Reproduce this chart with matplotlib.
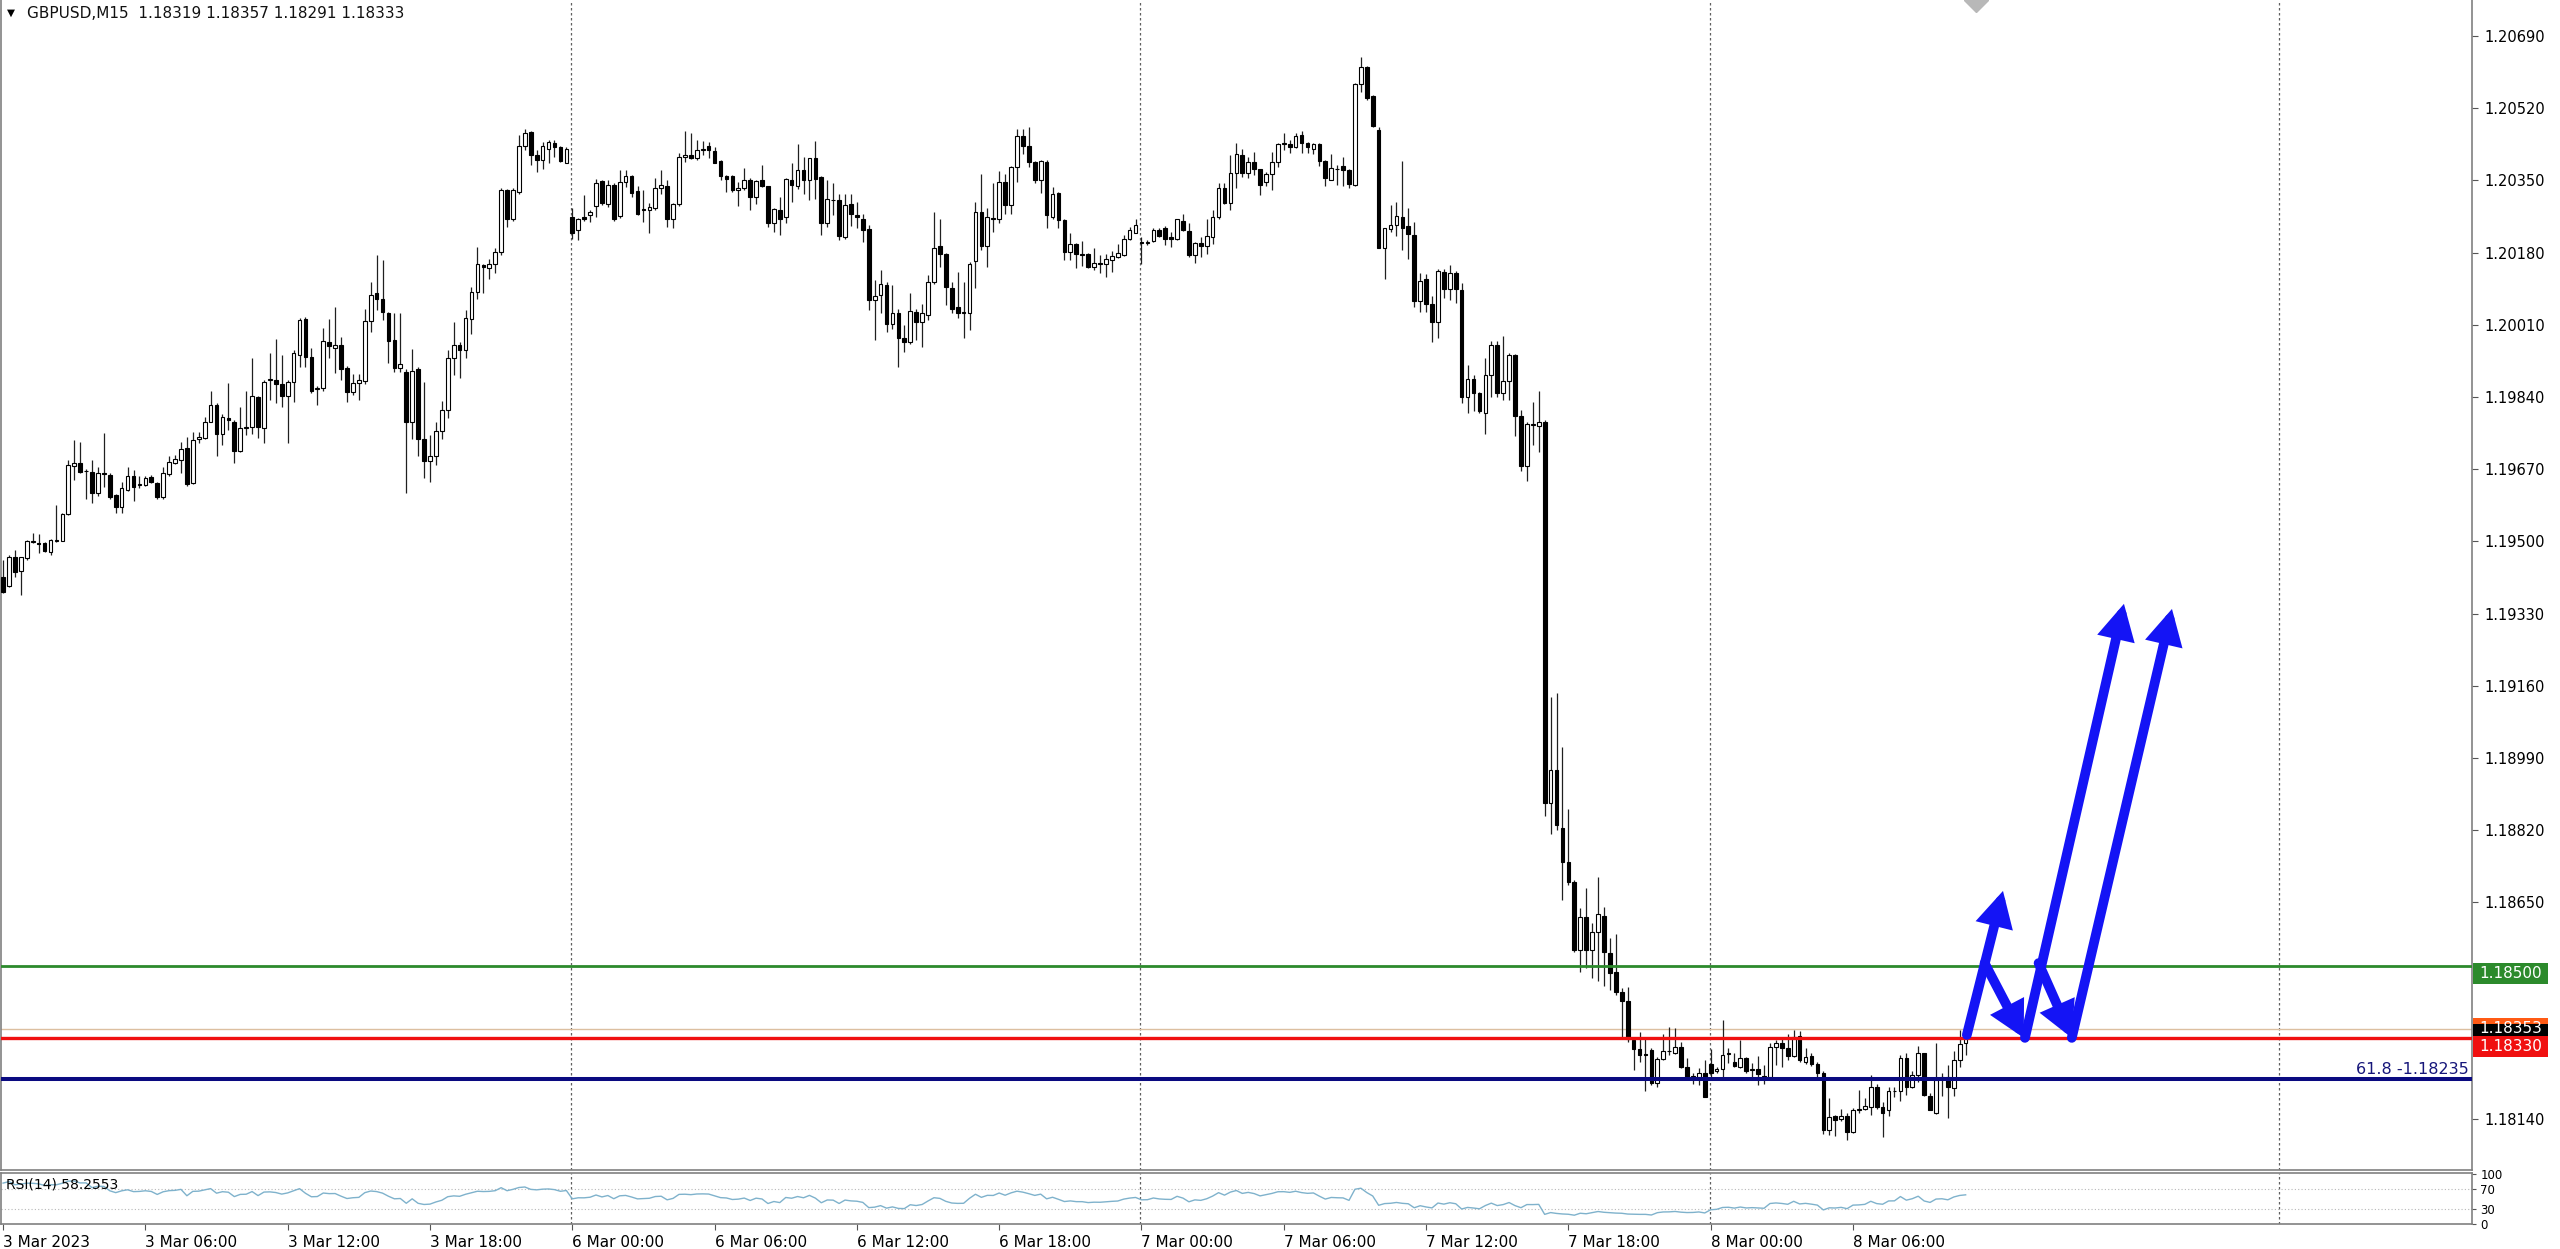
import numpy as np
import matplotlib
matplotlib.use("Agg")
import matplotlib.pyplot as plt
from matplotlib.patches import FancyArrowPatch, Rectangle
from matplotlib.transforms import blended_transform_factory
from matplotlib import font_manager

# GBPUSD M15 candles, 3 Mar 2023 00:00 -> 8 Mar 2023 10:45
opens = [
    1.19417, 1.19395, 1.19464, 1.19431, 1.19460, 1.19499, 1.19497, 1.19496, 1.19476, 1.19502,
    1.19502, 1.19565, 1.19678, 1.19684, 1.19666, 1.19664, 1.19613, 1.19662, 1.19656, 1.19609,
    1.19580, 1.19621, 1.19655, 1.19632, 1.19633, 1.19651, 1.19638, 1.19605, 1.19659, 1.19684,
    1.19692, 1.19719, 1.19637, 1.19740, 1.19743, 1.19782, 1.19821, 1.19753, 1.19791, 1.19782,
    1.19714, 1.19768, 1.19769, 1.19839, 1.19766, 1.19880, 1.19880, 1.19871, 1.19843, 1.19876,
    1.19939, 1.20023, 1.19934, 1.19859, 1.19861, 1.19970, 1.19955, 1.19962, 1.19909, 1.19852,
    1.19873, 1.19878, 1.20019, 1.20084, 1.20070, 1.20038, 1.19975, 1.19909, 1.19900, 1.19780,
    1.19905, 1.19740, 1.19690, 1.19700, 1.19760, 1.19810, 1.19931, 1.19962, 1.19950, 1.20023,
    1.20088, 1.20150, 1.20143, 1.20154, 1.20182, 1.20327, 1.20259, 1.20323, 1.20431, 1.20464,
    1.20409, 1.20398, 1.20423, 1.20439, 1.20428, 1.20392, 1.20264, 1.20233, 1.20264, 1.20268,
    1.20289, 1.20348, 1.20294, 1.20340, 1.20266, 1.20347, 1.20360, 1.20325, 1.20283, 1.20280,
    1.20284, 1.20333, 1.20336, 1.20259, 1.20294, 1.20404, 1.20411, 1.20402, 1.20422, 1.20431,
    1.20420, 1.20395, 1.20360, 1.20360, 1.20327, 1.20331, 1.20351, 1.20311, 1.20351, 1.20336,
    1.20250, 1.20280, 1.20263, 1.20351, 1.20336, 1.20374, 1.20352, 1.20402, 1.20357, 1.20249,
    1.20305, 1.20303, 1.20217, 1.20294, 1.20268, 1.20260, 1.20235, 1.20068, 1.20080, 1.20103,
    1.20013, 1.20037, 1.19980, 1.19970, 1.20041, 1.20017, 1.20033, 1.20111, 1.20195, 1.20176,
    1.20096, 1.20051, 1.20038, 1.20037, 1.20161, 1.20276, 1.20196, 1.20261, 1.20258, 1.20347,
    1.20292, 1.20382, 1.20454, 1.20431, 1.20394, 1.20351, 1.20394, 1.20264, 1.20321, 1.20256,
    1.20182, 1.20200, 1.20177, 1.20176, 1.20147, 1.20155, 1.20153, 1.20162, 1.20170, 1.20174,
    1.20211, 1.20227, 1.20206, 1.20202, 1.20208, 1.20233, 1.20237, 1.20217, 1.20211, 1.20255,
    1.20231, 1.20174, 1.20203, 1.20195, 1.20217, 1.20264, 1.20333, 1.20297, 1.20368, 1.20409,
    1.20368, 1.20394, 1.20376, 1.20347, 1.20365, 1.20394, 1.20435, 1.20435, 1.20428, 1.20457,
    1.20437, 1.20425, 1.20435, 1.20396, 1.20352, 1.20377, 1.20384, 1.20374, 1.20340, 1.20577,
    1.20616, 1.20549, 1.20468, 1.20192, 1.20235, 1.20246, 1.20264, 1.20242, 1.20221, 1.20065,
    1.20117, 1.20059, 1.20016, 1.20134, 1.20094, 1.20131, 1.20091, 1.19839, 1.19882, 1.19849,
    1.19803, 1.19892, 1.19962, 1.19849, 1.19878, 1.19940, 1.19796, 1.19677, 1.19775, 1.19772,
    1.19782, 1.18885, 1.18961, 1.18825, 1.18746, 1.18699, 1.18538, 1.18615, 1.18538, 1.18581,
    1.18617, 1.18532, 1.18485, 1.18440, 1.18419, 1.18325, 1.18304, 1.18293, 1.18303, 1.18224,
    1.18281, 1.18299, 1.18295, 1.18310, 1.18263, 1.18239, 1.18238, 1.18249, 1.18270, 1.18252,
    1.18257, 1.18293, 1.18275, 1.18263, 1.18283, 1.18255, 1.18257, 1.18241, 1.18238, 1.18310,
    1.18318, 1.18307, 1.18289, 1.18336, 1.18275, 1.18289, 1.18270, 1.18248, 1.18113, 1.18146,
    1.18139, 1.18146, 1.18110, 1.18160, 1.18163, 1.18169, 1.18215, 1.18169, 1.18161, 1.18205,
    1.18205, 1.18283, 1.18216, 1.18244, 1.18295, 1.18194, 1.18153, 1.18237, 1.18238, 1.18212,
    1.18278, 1.18319,
]
highs = [
    1.19456, 1.19468, 1.19480, 1.19464, 1.19503, 1.19519, 1.19518, 1.19498, 1.19505, 1.19586,
    1.19567, 1.19692, 1.19739, 1.19735, 1.19670, 1.19692, 1.19676, 1.19755, 1.19660, 1.19612,
    1.19640, 1.19676, 1.19668, 1.19653, 1.19655, 1.19656, 1.19641, 1.19676, 1.19700, 1.19703,
    1.19733, 1.19747, 1.19758, 1.19758, 1.19794, 1.19855, 1.19825, 1.19800, 1.19872, 1.19785,
    1.19817, 1.19853, 1.19931, 1.19843, 1.19880, 1.19943, 1.19976, 1.19939, 1.19880, 1.19951,
    1.20025, 1.20028, 1.19955, 1.19865, 1.20002, 1.20023, 1.20053, 1.19982, 1.19912, 1.19895,
    1.19895, 1.20048, 1.20111, 1.20174, 1.20162, 1.20041, 1.20037, 1.20037, 1.19905, 1.19954,
    1.19910, 1.19876, 1.19750, 1.19780, 1.19830, 1.19950, 1.20017, 1.19970, 1.20044, 1.20099,
    1.20194, 1.20154, 1.20166, 1.20190, 1.20331, 1.20330, 1.20331, 1.20457, 1.20472, 1.20466,
    1.20421, 1.20441, 1.20445, 1.20445, 1.20430, 1.20429, 1.20284, 1.20262, 1.20315, 1.20280,
    1.20353, 1.20350, 1.20351, 1.20345, 1.20374, 1.20374, 1.20362, 1.20336, 1.20327, 1.20296,
    1.20355, 1.20374, 1.20351, 1.20296, 1.20415, 1.20467, 1.20461, 1.20446, 1.20443, 1.20441,
    1.20429, 1.20397, 1.20362, 1.20362, 1.20347, 1.20380, 1.20355, 1.20352, 1.20387, 1.20338,
    1.20285, 1.20311, 1.20356, 1.20390, 1.20435, 1.20404, 1.20403, 1.20443, 1.20360, 1.20352,
    1.20343, 1.20319, 1.20319, 1.20318, 1.20300, 1.20272, 1.20245, 1.20115, 1.20140, 1.20110,
    1.20103, 1.20048, 1.20009, 1.20084, 1.20048, 1.20059, 1.20127, 1.20276, 1.20258, 1.20180,
    1.20111, 1.20135, 1.20111, 1.20158, 1.20300, 1.20365, 1.20284, 1.20343, 1.20373, 1.20365,
    1.20384, 1.20472, 1.20470, 1.20475, 1.20396, 1.20399, 1.20397, 1.20335, 1.20323, 1.20258,
    1.20227, 1.20203, 1.20208, 1.20178, 1.20190, 1.20174, 1.20176, 1.20184, 1.20200, 1.20221,
    1.20241, 1.20258, 1.20217, 1.20209, 1.20237, 1.20239, 1.20242, 1.20229, 1.20260, 1.20270,
    1.20249, 1.20205, 1.20217, 1.20258, 1.20280, 1.20343, 1.20343, 1.20409, 1.20439, 1.20423,
    1.20406, 1.20417, 1.20378, 1.20370, 1.20417, 1.20437, 1.20462, 1.20445, 1.20461, 1.20467,
    1.20441, 1.20439, 1.20437, 1.20398, 1.20412, 1.20386, 1.20404, 1.20376, 1.20580, 1.20641,
    1.20620, 1.20551, 1.20475, 1.20238, 1.20292, 1.20300, 1.20396, 1.20285, 1.20252, 1.20131,
    1.20130, 1.20079, 1.20141, 1.20141, 1.20151, 1.20137, 1.20108, 1.19915, 1.19892, 1.19851,
    1.19933, 1.19973, 1.19973, 1.19983, 1.19944, 1.19942, 1.19810, 1.19782, 1.19829, 1.19854,
    1.19786, 1.19134, 1.19144, 1.19015, 1.18871, 1.18703, 1.18636, 1.18683, 1.18601, 1.18710,
    1.18640, 1.18566, 1.18576, 1.18448, 1.18450, 1.18334, 1.18346, 1.18334, 1.18307, 1.18287,
    1.18340, 1.18356, 1.18354, 1.18322, 1.18283, 1.18248, 1.18259, 1.18279, 1.18304, 1.18263,
    1.18372, 1.18307, 1.18295, 1.18325, 1.18287, 1.18273, 1.18289, 1.18267, 1.18318, 1.18326,
    1.18334, 1.18340, 1.18350, 1.18348, 1.18307, 1.18296, 1.18275, 1.18252, 1.18189, 1.18150,
    1.18163, 1.18153, 1.18165, 1.18208, 1.18189, 1.18244, 1.18223, 1.18179, 1.18215, 1.18216,
    1.18291, 1.18295, 1.18252, 1.18311, 1.18296, 1.18201, 1.18318, 1.18248, 1.18267, 1.18301,
    1.18350, 1.18357,
]
lows = [
    1.19378, 1.19393, 1.19417, 1.19374, 1.19456, 1.19496, 1.19473, 1.19475, 1.19468, 1.19498,
    1.19500, 1.19562, 1.19645, 1.19660, 1.19601, 1.19590, 1.19608, 1.19629, 1.19600, 1.19566,
    1.19566, 1.19618, 1.19594, 1.19625, 1.19630, 1.19638, 1.19600, 1.19600, 1.19655, 1.19683,
    1.19660, 1.19630, 1.19635, 1.19731, 1.19740, 1.19780, 1.19700, 1.19727, 1.19762, 1.19684,
    1.19710, 1.19750, 1.19754, 1.19743, 1.19731, 1.19833, 1.19825, 1.19817, 1.19731, 1.19829,
    1.19911, 1.19911, 1.19850, 1.19821, 1.19855, 1.19931, 1.19896, 1.19880, 1.19829, 1.19845,
    1.19832, 1.19870, 1.19993, 1.20044, 1.20021, 1.19919, 1.19899, 1.19899, 1.19615, 1.19740,
    1.19700, 1.19650, 1.19640, 1.19680, 1.19740, 1.19790, 1.19891, 1.19884, 1.19931, 1.19989,
    1.20070, 1.20084, 1.20119, 1.20132, 1.20174, 1.20241, 1.20255, 1.20319, 1.20421, 1.20386,
    1.20370, 1.20378, 1.20390, 1.20406, 1.20394, 1.20390, 1.20213, 1.20209, 1.20255, 1.20252,
    1.20264, 1.20292, 1.20288, 1.20255, 1.20262, 1.20335, 1.20311, 1.20268, 1.20252, 1.20227,
    1.20280, 1.20319, 1.20241, 1.20239, 1.20290, 1.20394, 1.20400, 1.20398, 1.20409, 1.20402,
    1.20390, 1.20352, 1.20323, 1.20323, 1.20289, 1.20327, 1.20280, 1.20294, 1.20334, 1.20241,
    1.20229, 1.20221, 1.20250, 1.20300, 1.20330, 1.20319, 1.20303, 1.20307, 1.20221, 1.20241,
    1.20268, 1.20209, 1.20213, 1.20242, 1.20237, 1.20205, 1.20044, 1.19975, 1.20037, 1.19993,
    1.20001, 1.19911, 1.19946, 1.19965, 1.19974, 1.19958, 1.20021, 1.20105, 1.20147, 1.20056,
    1.20037, 1.20025, 1.19978, 1.19997, 1.20096, 1.20186, 1.20145, 1.20229, 1.20249, 1.20272,
    1.20272, 1.20347, 1.20413, 1.20382, 1.20343, 1.20321, 1.20237, 1.20258, 1.20237, 1.20162,
    1.20162, 1.20143, 1.20148, 1.20143, 1.20139, 1.20131, 1.20123, 1.20135, 1.20168, 1.20172,
    1.20209, 1.20225, 1.20154, 1.20198, 1.20205, 1.20216, 1.20198, 1.20194, 1.20209, 1.20231,
    1.20170, 1.20156, 1.20170, 1.20176, 1.20200, 1.20260, 1.20294, 1.20280, 1.20333, 1.20358,
    1.20355, 1.20362, 1.20315, 1.20336, 1.20327, 1.20382, 1.20421, 1.20415, 1.20426, 1.20415,
    1.20415, 1.20413, 1.20384, 1.20336, 1.20350, 1.20339, 1.20336, 1.20333, 1.20336, 1.20559,
    1.20540, 1.20475, 1.20190, 1.20117, 1.20228, 1.20218, 1.20185, 1.20166, 1.20051, 1.20041,
    1.20041, 1.19969, 1.19979, 1.20074, 1.20069, 1.20062, 1.19825, 1.19803, 1.19806, 1.19803,
    1.19753, 1.19839, 1.19839, 1.19832, 1.19832, 1.19749, 1.19666, 1.19642, 1.19728, 1.19710,
    1.18853, 1.18810, 1.18820, 1.18655, 1.18690, 1.18534, 1.18487, 1.18495, 1.18471, 1.18464,
    1.18452, 1.18444, 1.18432, 1.18330, 1.18322, 1.18256, 1.18275, 1.18205, 1.18219, 1.18216,
    1.18278, 1.18291, 1.18292, 1.18259, 1.18236, 1.18223, 1.18220, 1.18191, 1.18240, 1.18249,
    1.18238, 1.18273, 1.18262, 1.18259, 1.18249, 1.18240, 1.18220, 1.18223, 1.18235, 1.18267,
    1.18263, 1.18279, 1.18285, 1.18275, 1.18270, 1.18265, 1.18240, 1.18105, 1.18102, 1.18099,
    1.18136, 1.18091, 1.18107, 1.18153, 1.18160, 1.18150, 1.18163, 1.18097, 1.18147, 1.18191,
    1.18183, 1.18197, 1.18212, 1.18228, 1.18193, 1.18160, 1.18152, 1.18193, 1.18142, 1.18193,
    1.18263, 1.18291,
]
closes = [
    1.19382, 1.19464, 1.19427, 1.19463, 1.19502, 1.19501, 1.19495, 1.19478, 1.19503, 1.19503,
    1.19565, 1.19680, 1.19684, 1.19664, 1.19665, 1.19613, 1.19660, 1.19658, 1.19605, 1.19580,
    1.19625, 1.19653, 1.19629, 1.19634, 1.19649, 1.19641, 1.19605, 1.19660, 1.19686, 1.19693,
    1.19717, 1.19635, 1.19739, 1.19745, 1.19782, 1.19821, 1.19753, 1.19794, 1.19786, 1.19712,
    1.19766, 1.19770, 1.19843, 1.19770, 1.19876, 1.19883, 1.19871, 1.19843, 1.19876, 1.19943,
    1.20021, 1.19934, 1.19855, 1.19861, 1.19973, 1.19960, 1.19963, 1.19907, 1.19852, 1.19872,
    1.19881, 1.20019, 1.20081, 1.20070, 1.20039, 1.19972, 1.19909, 1.19917, 1.19780, 1.19902,
    1.19740, 1.19690, 1.19700, 1.19760, 1.19810, 1.19931, 1.19962, 1.19950, 1.20025, 1.20088,
    1.20154, 1.20147, 1.20154, 1.20182, 1.20327, 1.20259, 1.20327, 1.20431, 1.20462, 1.20409,
    1.20398, 1.20431, 1.20441, 1.20428, 1.20396, 1.20425, 1.20227, 1.20260, 1.20259, 1.20276,
    1.20343, 1.20297, 1.20339, 1.20258, 1.20347, 1.20360, 1.20321, 1.20272, 1.20281, 1.20288,
    1.20333, 1.20340, 1.20259, 1.20294, 1.20406, 1.20411, 1.20402, 1.20421, 1.20424, 1.20421,
    1.20392, 1.20360, 1.20354, 1.20327, 1.20333, 1.20351, 1.20311, 1.20349, 1.20336, 1.20250,
    1.20282, 1.20260, 1.20353, 1.20339, 1.20374, 1.20352, 1.20402, 1.20353, 1.20249, 1.20307,
    1.20303, 1.20219, 1.20292, 1.20271, 1.20263, 1.20234, 1.20068, 1.20077, 1.20106, 1.20013,
    1.20037, 1.19978, 1.19970, 1.20043, 1.20017, 1.20037, 1.20111, 1.20192, 1.20176, 1.20098,
    1.20048, 1.20037, 1.20039, 1.20153, 1.20276, 1.20196, 1.20263, 1.20260, 1.20347, 1.20292,
    1.20382, 1.20454, 1.20431, 1.20394, 1.20352, 1.20396, 1.20268, 1.20319, 1.20256, 1.20182,
    1.20200, 1.20176, 1.20175, 1.20147, 1.20156, 1.20154, 1.20164, 1.20172, 1.20178, 1.20213,
    1.20233, 1.20245, 1.20203, 1.20205, 1.20234, 1.20219, 1.20213, 1.20211, 1.20259, 1.20234,
    1.20174, 1.20203, 1.20195, 1.20219, 1.20263, 1.20333, 1.20297, 1.20368, 1.20412, 1.20368,
    1.20394, 1.20376, 1.20339, 1.20365, 1.20394, 1.20435, 1.20437, 1.20428, 1.20454, 1.20437,
    1.20428, 1.20435, 1.20396, 1.20355, 1.20380, 1.20376, 1.20374, 1.20341, 1.20577, 1.20616,
    1.20544, 1.20477, 1.20192, 1.20238, 1.20246, 1.20267, 1.20238, 1.20223, 1.20065, 1.20113,
    1.20059, 1.20016, 1.20137, 1.20094, 1.20131, 1.20094, 1.19839, 1.19882, 1.19849, 1.19806,
    1.19892, 1.19962, 1.19849, 1.19878, 1.19940, 1.19796, 1.19677, 1.19777, 1.19776, 1.19782,
    1.18885, 1.18961, 1.18832, 1.18746, 1.18698, 1.18538, 1.18615, 1.18538, 1.18581, 1.18623,
    1.18534, 1.18483, 1.18440, 1.18419, 1.18328, 1.18304, 1.18291, 1.18291, 1.18224, 1.18281,
    1.18299, 1.18301, 1.18310, 1.18263, 1.18238, 1.18240, 1.18249, 1.18191, 1.18249, 1.18257,
    1.18291, 1.18295, 1.18265, 1.18283, 1.18252, 1.18257, 1.18246, 1.18238, 1.18309, 1.18318,
    1.18307, 1.18289, 1.18334, 1.18278, 1.18287, 1.18270, 1.18249, 1.18113, 1.18144, 1.18138,
    1.18147, 1.18110, 1.18160, 1.18163, 1.18171, 1.18216, 1.18169, 1.18155, 1.18205, 1.18207,
    1.18283, 1.18216, 1.18244, 1.18296, 1.18197, 1.18161, 1.18232, 1.18239, 1.18216, 1.18279,
    1.18317, 1.18333,
]

# time axis: bar index of each label (15 min bars, weekend removed)
time_ticks = [0, 24, 48, 72, 96, 120, 144, 168, 192, 216, 240, 264, 288, 312]
time_labels = ["3 Mar 2023", "3 Mar 06:00", "3 Mar 12:00", "3 Mar 18:00",
               "6 Mar 00:00", "6 Mar 06:00", "6 Mar 12:00", "6 Mar 18:00",
               "7 Mar 00:00", "7 Mar 06:00", "7 Mar 12:00", "7 Mar 18:00",
               "8 Mar 00:00", "8 Mar 06:00"]
day_starts = [96, 192, 288, 384]

price_ticks = [1.20690, 1.20520, 1.20350, 1.20180, 1.20010, 1.19840, 1.19670,
               1.19500, 1.19330, 1.19160, 1.18990, 1.18820, 1.18650, 1.18140]
rsi_ticks = [0, 30, 70, 100]
rsi_levels = [30, 70]

# drawn objects
green_level = 1.18500
red_level = 1.18330
fib_level = 1.18235
ask_price = 1.18353
bid_price = 1.18333
arrow_paths = [
    ((331.2, 1.18338), (337.3, 1.18677)),
    ((334.2, 1.18507), (340.8, 1.18331)),
    ((341.0, 1.18331), (357.7, 1.19353)),
    ((343.3, 1.18507), (348.9, 1.18331)),
    ((348.9, 1.18331), (365.8, 1.19341)),
]

o = np.array(opens)
c = np.array(closes)
h = np.maximum(np.array(highs), np.maximum(o, c))
l = np.minimum(np.array(lows), np.minimum(o, c))
x = np.arange(len(c))


def wilder_rsi(values, period=14):
    diff = np.diff(values)
    gains = np.clip(diff, 0, None)
    losses = np.clip(-diff, 0, None)
    ag = gains[:period].mean()
    al = losses[:period].mean()
    out = [100 - 100 / (1 + ag / al)]
    for g, lo in zip(gains, losses):
        ag = (ag * (period - 1) + g) / period
        al = (al * (period - 1) + lo) / period
        out.append(100 - 100 / (1 + ag / al))
    return np.array(out)


rsi = wilder_rsi(c)

names = {f.name for f in font_manager.fontManager.ttflist}
narrow = "Liberation Sans Narrow" if "Liberation Sans Narrow" in names else "DejaVu Sans"

W, H = 2560, 1249
fig = plt.figure(figsize=(W / 100, H / 100), dpi=100, facecolor="white")
ax = fig.add_axes([1 / W, 79 / H, 2471 / W, 1170 / H])
ax2 = fig.add_axes([1 / W, 25 / H, 2471 / W, 51 / H])

xlim = (-0.35, 416.4)
ylim = (1.180199, 1.207748)
ax.set_xlim(*xlim)
ax.set_ylim(*ylim)
ax2.set_xlim(*xlim)
ax2.set_ylim(0, 102)
px = (ylim[1] - ylim[0]) / 1170  # price per screen pixel

frame = "#808080"
for a in (ax, ax2):
    for s in a.spines.values():
        s.set_color(frame)
        s.set_linewidth(1.2)
ax.spines["top"].set_visible(False)

# candles
up = c >= o
ax.vlines(x, l, h, color="#202020", lw=0.9, zorder=2)
body_lo = np.minimum(o, c)
body_h = np.maximum(np.abs(c - o), 0.000012)
ax.bar(x[up], body_h[up], bottom=body_lo[up], width=0.62, facecolor="white",
       edgecolor="black", linewidth=0.8, zorder=3)
ax.bar(x[~up], body_h[~up], bottom=body_lo[~up], width=0.62, facecolor="black",
       edgecolor="black", linewidth=0.8, zorder=3)

# day separators
for d in day_starts:
    for a in (ax, ax2):
        a.axvline(d - 0.2, color="#606060", lw=0.9, ls=(0, (2, 2)), zorder=1)

# horizontal levels
ax.axhline(ask_price, color="#dcbfa0", lw=1.0, zorder=1.5)
ax.axhline(green_level, color="#2c8a2c", lw=2.0, zorder=4)
ax.axhline(red_level, color="#f01010", lw=2.4, zorder=4)
ax.axhline(fib_level, color="#0a0a80", lw=2.9, zorder=4)

trans = blended_transform_factory(ax.transAxes, ax.transData)
ax.text(0.9985, fib_level + 0.00004, "61.8 -1.18235", transform=trans, ha="right",
        va="bottom", color="#16167a", fontsize=11.5, zorder=5)

# projected path arrows
for p0, p1 in arrow_paths:
    ax.add_patch(FancyArrowPatch(p0, p1, arrowstyle="-|>,head_length=15,head_width=8",
                                 mutation_scale=1, lw=7, color="#1414f5",
                                 shrinkA=0, shrinkB=0, capstyle="round",
                                 joinstyle="miter", zorder=6))

# chart-shift marker at top
ax.plot([332.7], [ylim[1]], marker="D", ms=12, color="#b8b8b8", zorder=5, clip_on=True)

# price axis
ax.yaxis.tick_right()
ax.set_yticks(price_ticks)
ax.set_yticklabels([f"{v:.5f}" for v in price_ticks])
ax.tick_params(axis="y", direction="out", length=4, width=0.8, color="#555555",
               labelsize=10.5, pad=5, labelcolor="black")
ax.set_xticks([])

# price tags on the axis (boxes 75 px wide, 21 px tall)
tag_w = 75 / 2471
tag_h = 21 * px


def axis_tag(center, face, text=None):
    ax.add_patch(Rectangle((1.0006, center - tag_h / 2), tag_w, tag_h, transform=trans,
                           facecolor=face, edgecolor="none", clip_on=False, zorder=10))
    if text:
        ax.text(1.0006 + tag_w / 2, center, text, transform=trans, ha="center",
                va="center", color="white", fontsize=11, clip_on=False, zorder=11)


axis_tag(ask_price, "#ff5a14", f"{ask_price:.5f}")
axis_tag(bid_price + 3 * px, "black")
axis_tag(red_level - 8 * px, "#f01010", f"{red_level:.5f}")
axis_tag(green_level - 7 * px, "#2c8a2c", f"{green_level:.5f}")

# RSI panel
ax2.plot(x, rsi, color="#7fb2cc", lw=1.0, zorder=3)
for lv in rsi_levels:
    ax2.axhline(lv, color="#b8b8b8", lw=0.8, ls=(0, (1, 2)), zorder=1)
ax2.yaxis.tick_right()
ax2.set_yticks(rsi_ticks)
ax2.set_yticklabels([str(v) for v in rsi_ticks])
ax2.tick_params(axis="y", direction="out", length=3, width=0.8, color="#555555",
                labelsize=8.5, pad=3)
ax2.set_xticks(time_ticks)
ax2.set_xticklabels(time_labels, ha="left", fontsize=11, family=narrow)
ax2.tick_params(axis="x", direction="out", length=4, width=0.8, color="#555555", pad=4)
ax2.text(0.002, 0.78, "RSI(14) 58.2553", transform=ax2.transAxes, ha="left",
         va="center", fontsize=10, family=narrow, color="black", zorder=5)

# header
fig.text(7 / W, 1 - 13 / H, "\u25bc", fontsize=7.5, va="center", ha="left")
fig.text(27 / W, 1 - 13 / H,
         f"GBPUSD,M15  {opens[-1]:.5f} {highs[-1]:.5f} {lows[-1]:.5f} {closes[-1]:.5f}",
         fontsize=11, va="center", ha="left", color="#111111")

fig.savefig("out.png", dpi=100, facecolor="white")
